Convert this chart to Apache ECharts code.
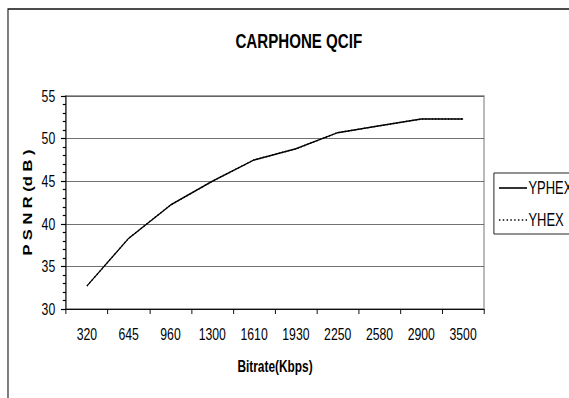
<!DOCTYPE html>
<html>
<head>
<meta charset="utf-8">
<script src="https://cdn.jsdelivr.net/npm/echarts@6/dist/echarts.min.js"></script>
<style>
  html, body { margin: 0; padding: 0; background: #fff; overflow: hidden; }
  /* The chart is laid out wider and squeezed horizontally to get a narrow-type look */
  #wrap { width: 569px; height: 398px; overflow: hidden; }
  #chart { width: 900px; height: 398px; transform: scaleX(0.72); transform-origin: 0 0; }
</style>
</head>
<body>
<div id="wrap"><div id="chart"></div></div>
<script>
// Bitrate categories (Kbps) and PSNR values (dB) for the two search methods
const bitrates = ['320', '645', '960', '1300', '1610', '1930', '2250', '2580', '2900', '3500'];
const yphexPsnr = [32.7, 38.3, 42.2, 45.0, 47.5, 48.8, 50.7, 51.5, 52.3, 52.3];
const yhexPsnr  = [32.7, 38.3, 42.2, 45.0, 47.5, 48.8, 50.7, 51.5, 52.3, 52.3];
const seriesNames = ['YPHEX', 'YHEX'];

const FONT = '"Liberation Sans", Arial, sans-serif';

// Legend keys: a solid bar and a row of dots
const solidKey = 'path://M0,0H39V1.6H0Z';
let dotted = '';
for (let i = 0; i < 8; i++) dotted += 'M' + (i * 5.2) + ',0h2v1.6h-2Z';
const dottedKey = 'path://' + dotted;

const chart = echarts.init(document.getElementById('chart'), null, { renderer: 'svg' });

chart.setOption({
  backgroundColor: '#ffffff',
  animation: false,
  title: {
    text: 'CARPHONE QCIF',
    left: 322,
    top: 25,
    textStyle: { fontFamily: FONT, fontWeight: 'bold', fontSize: 21, color: '#000' }
  },
  graphic: [{
    type: 'rect',
    silent: true,
    z: -1,
    shape: { x: 11.1, y: 9, width: 1000, height: 500 },
    style: { fill: 'none', stroke: '#111', lineWidth: 1.5 }
  }],
  legend: {
    orient: 'vertical',
    left: 686,
    top: 173,
    padding: [6, 60, 5, 7],
    itemGap: 14,
    itemWidth: 39,
    itemHeight: 1.6,
    symbolKeepAspect: false,
    borderColor: '#000',
    borderWidth: 1,
    backgroundColor: '#fff',
    textStyle: { fontFamily: FONT, fontSize: 18, color: '#000', padding: [0, 0, 0, -3] },
    data: [
      { name: seriesNames[0], icon: solidKey, itemStyle: { color: '#000' } },
      { name: seriesNames[1], icon: dottedKey, itemStyle: { color: '#000' } }
    ]
  },
  grid: {
    left: 91.67, width: 580.56, top: 96, bottom: 89,
    show: true,
    borderColor: '#808080',
    borderWidth: 1.5,
    containLabel: false
  },
  xAxis: {
    type: 'category',
    data: bitrates,
    boundaryGap: true,
    name: 'Bitrate(Kbps)',
    nameLocation: 'middle',
    nameGap: 49,
    nameTextStyle: { fontFamily: FONT, fontWeight: 'bold', fontSize: 16.5, color: '#000' },
    axisLine: { lineStyle: { color: '#000', width: 1 } },
    axisTick: { show: true, inside: false, length: 5, interval: 0, lineStyle: { color: '#000', width: 1.3 } },
    axisLabel: { margin: 17, interval: 0, fontFamily: FONT, fontSize: 17, color: '#000' },
    splitLine: { show: false }
  },
  yAxis: {
    type: 'value',
    min: 30,
    max: 55,
    interval: 5,
    name: 'P S N R (d B )',
    nameLocation: 'middle',
    nameGap: 6,
    nameRotate: 90,
    nameTextStyle: { fontFamily: FONT, fontWeight: 'bold', fontSize: 16.5, color: '#000' },
    axisLine: { show: true, lineStyle: { color: '#000', width: 1.3 } },
    axisTick: { show: true, inside: false, length: 7, lineStyle: { color: '#000', width: 1.2 } },
    minorTick: { show: true, splitNumber: 5, length: 4.5, lineStyle: { color: '#000', width: 1.2 } },
    axisLabel: { margin: 15, fontFamily: FONT, fontSize: 17, color: '#000' },
    splitLine: { show: true, lineStyle: { color: '#5a5a5a', width: 1 } }
  },
  series: [
    {
      name: seriesNames[0],
      type: 'line',
      data: yphexPsnr,
      symbol: 'none',
      lineStyle: { color: '#000', width: 1.5, type: 'solid' },
      itemStyle: { color: '#000' },
      z: 3
    },
    {
      name: seriesNames[1],
      type: 'line',
      data: yhexPsnr,
      symbol: 'none',
      lineStyle: { color: '#000', width: 1.5, type: [1.5, 3] },
      itemStyle: { color: '#000' },
      z: 4
    }
  ]
});
</script>
</body>
</html>
